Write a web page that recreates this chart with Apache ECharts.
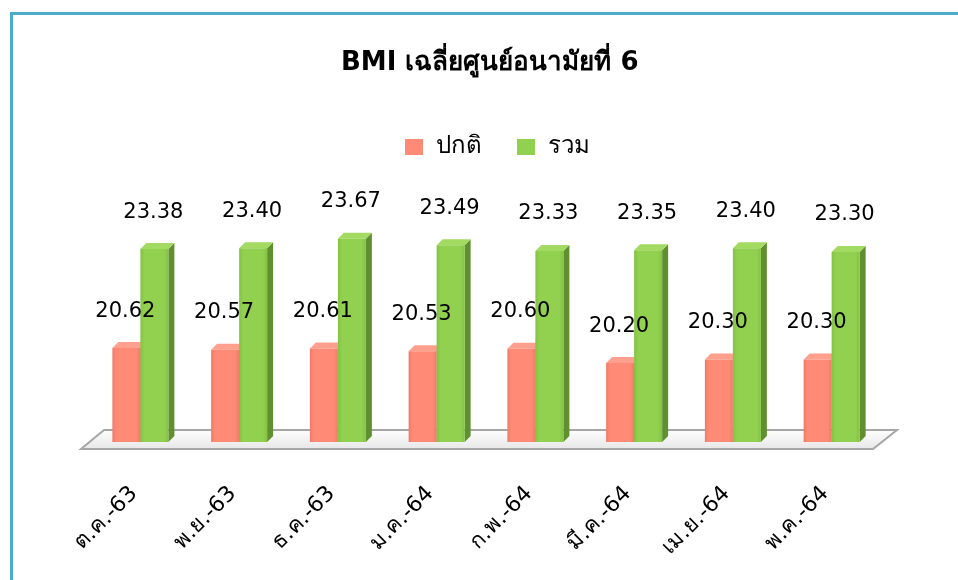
<!DOCTYPE html>
<html>
<head>
<meta charset="utf-8">
<script src="https://cdn.jsdelivr.net/npm/echarts@6/dist/echarts.min.js"></script>
<style>
  html, body { margin: 0; padding: 0; background: #fff; }
  #main { width: 958px; height: 580px; }
</style>
</head>
<body>
<div id="main"></div>
<script>
var months = ['ต.ค.-63', 'พ.ย.-63', 'ธ.ค.-63', 'ม.ค.-64', 'ก.พ.-64', 'มี.ค.-64', 'เม.ย.-64', 'พ.ค.-64'];
var normal = [20.62, 20.57, 20.61, 20.53, 20.60, 20.20, 20.30, 20.30];
var total = [23.38, 23.40, 23.67, 23.49, 23.33, 23.35, 23.40, 23.30];
var yMin = 18;
var yMax = 25;

var font = 'Tahoma, "DejaVu Sans", "Noto Sans", sans-serif';
var barW = 28;
var myChart = echarts.init(document.getElementById('main'));

// แท่ง 3 มิติ: หน้า + ด้านข้าง + ฝาบน
function bar3d(side, colors) {
    return function (params, api) {
        var idx = api.value(0);
        var top = api.coord([idx, api.value(1)]);
        var base = api.coord([idx, yMin]);
        var w = barW, d = 6;
        var xL = side < 0 ? top[0] - w : top[0];
        var xR = xL + w;
        var yT = top[1], yB = base[1];
        return {
            type: 'group',
            children: [
                {
                    type: 'polygon',
                    shape: {points: [[xR, yT], [xR + d, yT - d], [xR + d, yB - d], [xR, yB]]},
                    style: {fill: colors.side}
                },
                {
                    type: 'polygon',
                    shape: {points: [[xL, yT], [xL + d, yT - d], [xR + d, yT - d], [xR, yT]]},
                    style: {fill: colors.top}
                },
                {
                    type: 'rect',
                    shape: {x: xL, y: yT, width: w, height: yB - yT},
                    style: {
                        fill: new echarts.graphic.LinearGradient(0, 0, 1, 0, [
                            {offset: 0, color: colors.edge},
                            {offset: 0.15, color: colors.face},
                            {offset: 0.85, color: colors.face},
                            {offset: 1, color: colors.edge}
                        ])
                    }
                }
            ]
        };
    };
}

// ตัวเลขบนแท่ง (วาดทับแท่งทั้งหมด)
function valueLabels(params, api) {
    var idx = api.value(0);
    var p1 = api.coord([idx, api.value(1)]);
    var p2 = api.coord([idx, api.value(2)]);
    var mk = function (p, v, dx) {
        return {
            type: 'text',
            style: {
                text: v.toFixed(2),
                x: p[0] + dx,
                y: p[1] - 37,
                align: 'center',
                verticalAlign: 'middle',
                fill: '#000',
                font: '21px ' + font
            }
        };
    };
    return {
        type: 'group',
        children: [
            mk(p1, api.value(1), -barW / 2 - 1),
            mk(p2, api.value(2), barW / 2 - 1)
        ]
    };
}

function floor(params, api) {
    var cs = params.coordSys;
    var gl = cs.x, gr = cs.x + cs.width, gb = cs.y + cs.height;
    return {
        type: 'polygon',
        shape: {points: [[gl - 10, gb + 7], [gr - 8, gb + 7], [gr + 16, gb - 12], [gl + 13, gb - 12]]},
        style: {
            fill: new echarts.graphic.LinearGradient(0, 0, 0, 1, [
                {offset: 0, color: '#ffffff'},
                {offset: 1, color: '#e6e6e6'}
            ]),
            stroke: '#a6a6a6',
            lineWidth: 2
        }
    };
}

var option = {
    backgroundColor: '#fff',
    title: {
        text: 'BMI เฉลี่ยศูนย์อนามัยที่ 6',
        left: 336,
        top: 45,
        textStyle: {
            fontFamily: font,
            fontWeight: 'bold',
            fontSize: 26,
            color: '#000'
        }
    },
    legend: {
        top: 130,
        left: 400,
        icon: 'rect',
        itemWidth: 18,
        itemHeight: 16,
        itemGap: 35,
        data: ['ปกติ', 'รวม'],
        textStyle: {fontFamily: font, fontSize: 24, color: '#000', padding: [0, 0, 0, 8]}
    },
    graphic: [
        {type: 'rect', shape: {x: 10, y: 12, width: 948, height: 3}, style: {fill: '#4bacc6'}},
        {type: 'rect', shape: {x: 10, y: 12, width: 3, height: 568}, style: {fill: '#4bacc6'}}
    ],
    grid: {left: 91, right: 77, top: 191, bottom: 138},
    xAxis: {
        type: 'category',
        data: months,
        axisLine: {show: false},
        axisTick: {show: false},
        axisLabel: {
            interval: 0,
            rotate: 45,
            margin: 42,
            padding: [0, 9, 0, 0],
            fontFamily: font,
            fontSize: 22,
            color: '#000'
        }
    },
    yAxis: {
        type: 'value',
        min: yMin,
        max: yMax,
        show: false,
        splitLine: {show: false}
    },
    series: [
        {
            name: 'floor',
            type: 'custom',
            renderItem: floor,
            data: [[0, yMin]],
            silent: true,
            z: 1
        },
        {
            name: 'ปกติ',
            type: 'custom',
            renderItem: bar3d(-1, {face: '#ff8b77', edge: '#f07a66', side: '#c0604f', top: '#ffa08e'}),
            itemStyle: {color: '#ff8b77'},
            data: normal.map(function (v, i) { return [i, v]; }),
            z: 2
        },
        {
            name: 'รวม',
            type: 'custom',
            renderItem: bar3d(1, {face: '#92d050', edge: '#84c244', side: '#5f8f2f', top: '#a3da62'}),
            itemStyle: {color: '#92d050'},
            data: total.map(function (v, i) { return [i, v]; }),
            z: 3
        },
        {
            name: 'labels',
            type: 'custom',
            renderItem: valueLabels,
            silent: true,
            data: normal.map(function (v, i) { return [i, v, total[i]]; }),
            z: 5
        }
    ]
};

myChart.setOption(option);
</script>
</body>
</html>
